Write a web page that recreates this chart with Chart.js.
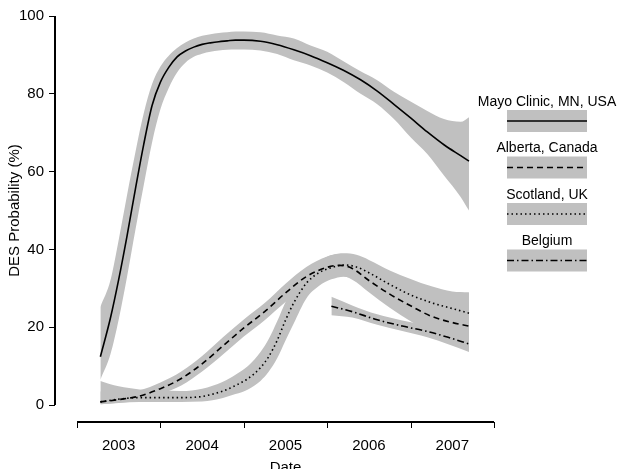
<!DOCTYPE html>
<html><head><meta charset="utf-8">
<script src="https://cdn.jsdelivr.net/npm/chart.js@4.4.0/dist/chart.umd.min.js"></script>
<style>html,body{margin:0;padding:0;background:#fff}canvas{display:block}</style>
</head><body>
<canvas id="c" width="617" height="469"></canvas>
<script>
// ---- data (decimal years, DES probability %) ----
const seriesNames = ["Mayo Clinic, MN, USA", "Alberta, Canada", "Scotland, UK", "Belgium"];
const yearEdges = [2003, 2004, 2005, 2006, 2007, 2008];
const yearLabels = [2003, 2004, 2005, 2006, 2007];
const yTicks = [0, 20, 40, 60, 80, 100];

const mayoDates = [2003.28, 2003.4, 2003.5, 2003.6, 2003.7, 2003.8, 2003.9, 2004.0, 2004.1, 2004.2, 2004.3, 2004.4, 2004.5, 2004.6, 2004.7, 2004.8, 2004.9, 2005.0, 2005.2, 2005.4, 2005.6, 2005.8, 2006.0, 2006.2, 2006.4, 2006.6, 2006.8, 2007.0, 2007.2, 2007.4, 2007.6, 2007.7];
const mayoMean  = [12.4, 22.3, 32.3, 43.5, 55.5, 67, 77, 83, 86.8, 89.5, 91, 92, 92.7, 93.1, 93.4, 93.6, 93.8, 93.8, 93.5, 92.6, 91.3, 89.8, 88, 86, 83.6, 80.7, 77.3, 73.8, 70.2, 66.9, 64.1, 62.7];
const mayoLow   = [6.5, 13, 22, 33, 45, 56.5, 67.5, 76, 81.5, 85.5, 88, 89.5, 90.3, 90.8, 91.1, 91.3, 91.4, 91.4, 91.1, 90.2, 88.6, 87.3, 85.5, 83, 80, 77.3, 73.5, 68.8, 64.5, 59, 53.5, 50];
const mayoHigh  = [25.2, 32, 42.5, 54, 65, 75, 82.5, 87, 89.8, 91.8, 93.2, 94.2, 94.9, 95.3, 95.6, 95.8, 96, 96, 95.8, 95, 94.2, 92.4, 90.8, 88.3, 85.8, 83.5, 80.5, 78, 75.6, 73.5, 72.8, 74];

const albertaDates = [2003.28, 2003.5, 2003.75, 2004.0, 2004.25, 2004.5, 2004.75, 2005.0, 2005.25, 2005.5, 2005.75, 2006.0, 2006.15, 2006.3, 2006.5, 2006.75, 2007.0, 2007.25, 2007.5, 2007.7];
const albertaMean  = [0.8, 1.4, 2.3, 4.2, 6.8, 10.6, 15.2, 19.8, 24, 28.8, 33, 35.4, 35.9, 35.1, 32, 28.5, 25.5, 22.8, 21.2, 20.3];
const albertaLow   = [0.2, 0.5, 1.2, 2.8, 5, 8.6, 13, 17.6, 21.8, 26.5, 30.6, 32.8, 33.2, 32.2, 29, 25, 21.5, 18.2, 16, 14.5];
const albertaHigh  = [3.5, 3.2, 3.8, 5.8, 8.6, 12.6, 17.4, 22, 26.2, 31.2, 35.5, 38.2, 38.8, 38, 35, 32, 29.5, 27.5, 26.5, 26.5];

const scotlandDates = [2003.28, 2003.5, 2003.75, 2004.0, 2004.25, 2004.5, 2004.75, 2004.9, 2005.05, 2005.2, 2005.3, 2005.4, 2005.5, 2005.6, 2005.75, 2005.9, 2006.05, 2006.2, 2006.35, 2006.5, 2006.75, 2007.0, 2007.25, 2007.5, 2007.7];
const scotlandMean  = [0.8, 1.5, 1.9, 1.9, 1.9, 2.2, 3.6, 5, 6.8, 9.6, 12.5, 16.6, 21.8, 26.3, 31.3, 34, 35.3, 36, 35.5, 34, 31, 28.3, 26.3, 24.8, 23.6];
const scotlandLow   = [0.2, 0.6, 0.8, 0.8, 0.8, 0.9, 1.8, 2.8, 4, 6.2, 8.6, 12, 16.6, 21, 27.4, 30.6, 32.3, 33, 32.4, 30.8, 27.2, 23.6, 21, 18.8, 17.5];
const scotlandHigh  = [6.2, 4.8, 4, 3.7, 3.6, 4.2, 6, 7.8, 10, 13.6, 17, 21.5, 26.5, 30.5, 34.6, 37, 38.5, 39, 38.6, 37.3, 34.6, 32.4, 30.5, 29.2, 29];

const belgiumDates = [2006.05, 2006.3, 2006.6, 2006.9, 2007.2, 2007.45, 2007.7];
const belgiumMean  = [25.4, 24, 21.9, 20.3, 18.9, 17.4, 15.7];
const belgiumLow   = [23.1, 22.5, 20.6, 19, 17.4, 15.6, 13.6];
const belgiumHigh  = [27.8, 25.6, 23.3, 21.7, 20.4, 19.2, 18];

// ---- styling ----
const FONT = "'Liberation Sans', Arial, Helvetica, sans-serif";
const BAND = '#c0c0c0';
const dashes = [[], [6, 4], [1.5, 3], [7, 3, 1.5, 3]];

function pts(xs, ys) { return xs.map((x, i) => ({ x: x, y: ys[i] })); }

const groups = [
  [mayoDates, mayoMean, mayoLow, mayoHigh],
  [albertaDates, albertaMean, albertaLow, albertaHigh],
  [scotlandDates, scotlandMean, scotlandLow, scotlandHigh],
  [belgiumDates, belgiumMean, belgiumLow, belgiumHigh]
];

const datasets = [];
groups.forEach((g, i) => {
  datasets.push({
    label: seriesNames[i], data: pts(g[0], g[1]),
    borderColor: '#000', borderWidth: 1.6, borderDash: dashes[i],
    pointRadius: 0, fill: false, cubicInterpolationMode: 'monotone'
  });
});
groups.forEach((g, i) => {
  datasets.push({
    label: seriesNames[i] + ' low', data: pts(g[0], g[2]),
    borderWidth: 0, borderColor: 'rgba(0,0,0,0)', pointRadius: 0, fill: false,
    cubicInterpolationMode: 'monotone'
  });
  datasets.push({
    label: seriesNames[i] + ' high', data: pts(g[0], g[3]),
    borderWidth: 0, borderColor: 'rgba(0,0,0,0)', backgroundColor: BAND,
    pointRadius: 0, fill: '-1', cubicInterpolationMode: 'monotone'
  });
});

const decorPlugin = {
  id: 'decor',
  afterDraw(chart) {
    const ctx = chart.ctx, xs = chart.scales.x, ys = chart.scales.y, ca = chart.chartArea;
    ctx.save();
    ctx.strokeStyle = '#000';
    ctx.lineWidth = 2;
    // y axis line (0..100)
    ctx.beginPath();
    ctx.moveTo(ca.left, ys.getPixelForValue(yTicks[0]));
    ctx.lineTo(ca.left, ys.getPixelForValue(yTicks[yTicks.length - 1]));
    ctx.stroke();
    // x axis line
    const x0 = xs.getPixelForValue(yearEdges[0]);
    const x1 = xs.getPixelForValue(yearEdges[yearEdges.length - 1]);
    ctx.beginPath();
    ctx.moveTo(x0, ca.bottom); ctx.lineTo(x1, ca.bottom);
    ctx.stroke();
    ctx.lineWidth = 1;
    yearEdges.forEach(v => {
      const p = Math.round(xs.getPixelForValue(v)) + 0.5;
      ctx.beginPath(); ctx.moveTo(p, ca.bottom); ctx.lineTo(p, ca.bottom + 6); ctx.stroke();
    });
    // axis titles
    ctx.fillStyle = '#000';
    ctx.font = '15px ' + FONT;
    ctx.textAlign = 'center'; ctx.textBaseline = 'middle';
    ctx.fillText('Date', (x0 + x1) / 2, ca.bottom + 46);
    const yc = (ys.getPixelForValue(0) + ys.getPixelForValue(100)) / 2;
    ctx.save();
    ctx.translate(15, yc); ctx.rotate(-Math.PI / 2);
    ctx.fillText('DES Probability (%)', 0, 0);
    ctx.restore();
    // legend
    const cx = ca.right + 53;
    ctx.font = '14px ' + FONT;
    seriesNames.forEach((name, i) => {
      const ty = 102 + i * 46.5;
      ctx.fillStyle = '#000';
      ctx.fillText(name, cx, ty);
      ctx.fillStyle = BAND;
      ctx.fillRect(cx - 40, ty + 8, 80, 22);
      ctx.strokeStyle = '#000';
      ctx.lineWidth = 1.6;
      ctx.setLineDash(dashes[i]);
      ctx.beginPath(); ctx.moveTo(cx - 40, ty + 19); ctx.lineTo(cx + 40, ty + 19); ctx.stroke();
      ctx.setLineDash([]);
    });
    ctx.restore();
  }
};

Chart.defaults.font.family = FONT;
Chart.defaults.color = '#000';

new Chart(document.getElementById('c'), {
  type: 'line',
  data: { datasets: datasets },
  options: {
    responsive: false, animation: false, devicePixelRatio: 1,
    layout: { padding: { left: 0, right: 123, top: 16, bottom: 0 } },
    plugins: { legend: { display: false }, tooltip: { enabled: false } },
    scales: {
      x: {
        type: 'linear', min: 2002.736, max: 2008,
        grid: { display: false, drawTicks: false },
        border: { display: false },
        ticks: { font: { size: 15 }, padding: 15, maxRotation: 0, callback: v => String(Math.floor(v)) },
        afterBuildTicks: s => { s.ticks = yearLabels.map(y => ({ value: y + 0.5 })); },
        afterFit: s => { s.height = 47; }
      },
      y: {
        type: 'linear', min: -4.37, max: 100,
        grid: { drawOnChartArea: false, drawTicks: true, tickLength: 6, color: '#000', lineWidth: 1 },
        border: { display: false },
        ticks: { font: { size: 15 }, padding: 5 },
        afterBuildTicks: s => { s.ticks = yTicks.map(v => ({ value: v })); },
        afterFit: s => { s.width = 55; }
      }
    }
  },
  plugins: [decorPlugin]
});
</script>
</body></html>
